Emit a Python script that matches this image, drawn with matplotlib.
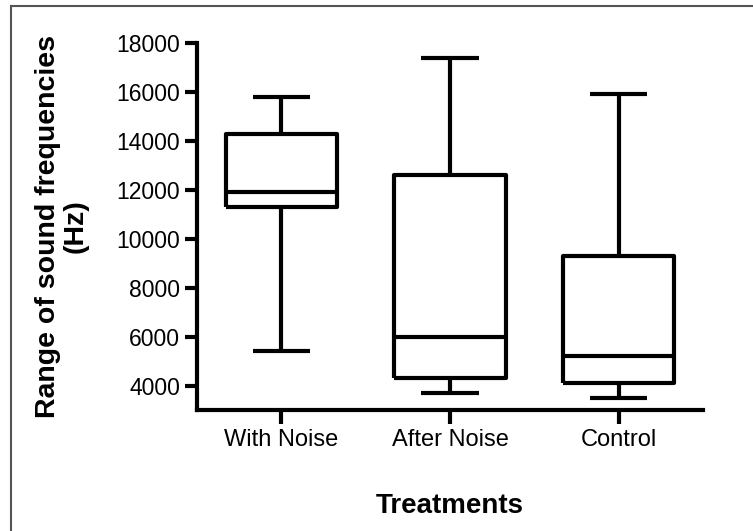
"""Box plot of sound frequency ranges per treatment (Prism-style, min-to-max whiskers)."""

import matplotlib
matplotlib.use("Agg")
import matplotlib.pyplot as plt
from matplotlib.lines import Line2D


treatments = ["With Noise", "After Noise", "Control"]
minimum = [5400, 3700, 3500]
lower_quartile = [11300, 4300, 4100]
median = [11900, 6000, 5200]
upper_quartile = [14300, 12600, 9300]
maximum = [15800, 17400, 15900]
y_ticks = [4000, 6000, 8000, 10000, 12000, 14000, 16000, 18000]

plt.rcParams["font.family"] = ["Liberation Sans", "DejaVu Sans"]

stats = []
for name, lo, q1, med, q3, hi in zip(treatments, minimum, lower_quartile,
                                     median, upper_quartile, maximum):
    stats.append({"label": name, "whislo": lo, "q1": q1, "med": med,
                  "q3": q3, "whishi": hi, "fliers": []})

fig = plt.figure(figsize=(7.53, 5.31), dpi=100)
ax = fig.add_axes([0.2616, 0.2279, 0.672, 0.691])

lw = 3
line_style = {"color": "black", "linewidth": lw, "solid_capstyle": "butt"}
ax.bxp(stats, widths=0.66, showfliers=False,
       boxprops=dict(line_style), medianprops=dict(line_style),
       whiskerprops=dict(line_style), capprops=dict(line_style),
       capwidths=0.34)

ax.set_xlim(0.5, 3.5)
ax.set_ylim(3000, 18000)
ax.set_yticks(y_ticks)
ax.set_yticklabels([str(v) for v in y_ticks])

for side in ("top", "right"):
    ax.spines[side].set_visible(False)
ax.spines["left"].set_bounds(3000, 18000)
for side in ("left", "bottom"):
    ax.spines[side].set_linewidth(3)
ax.tick_params(axis="y", length=9, width=3, pad=3, labelsize=16.5)
ax.tick_params(axis="x", length=10, width=3, pad=4, labelsize=17)

ax.set_ylabel("Range of sound frequencies\n(Hz)", fontsize=20.5,
              fontweight="bold", labelpad=20, linespacing=1.1)
ax.set_xlabel("Treatments", fontsize=20, fontweight="bold", labelpad=30)

# thin grey frame along the top and left edges
frame = {"color": "#555555", "linewidth": 1.5}
fig.add_artist(Line2D([0.014, 1.0], [0.9896, 0.9896], **frame))
fig.add_artist(Line2D([0.014, 0.014], [0.0, 0.9896], **frame))

fig.savefig("out.png", dpi=100)
plt.close(fig)
